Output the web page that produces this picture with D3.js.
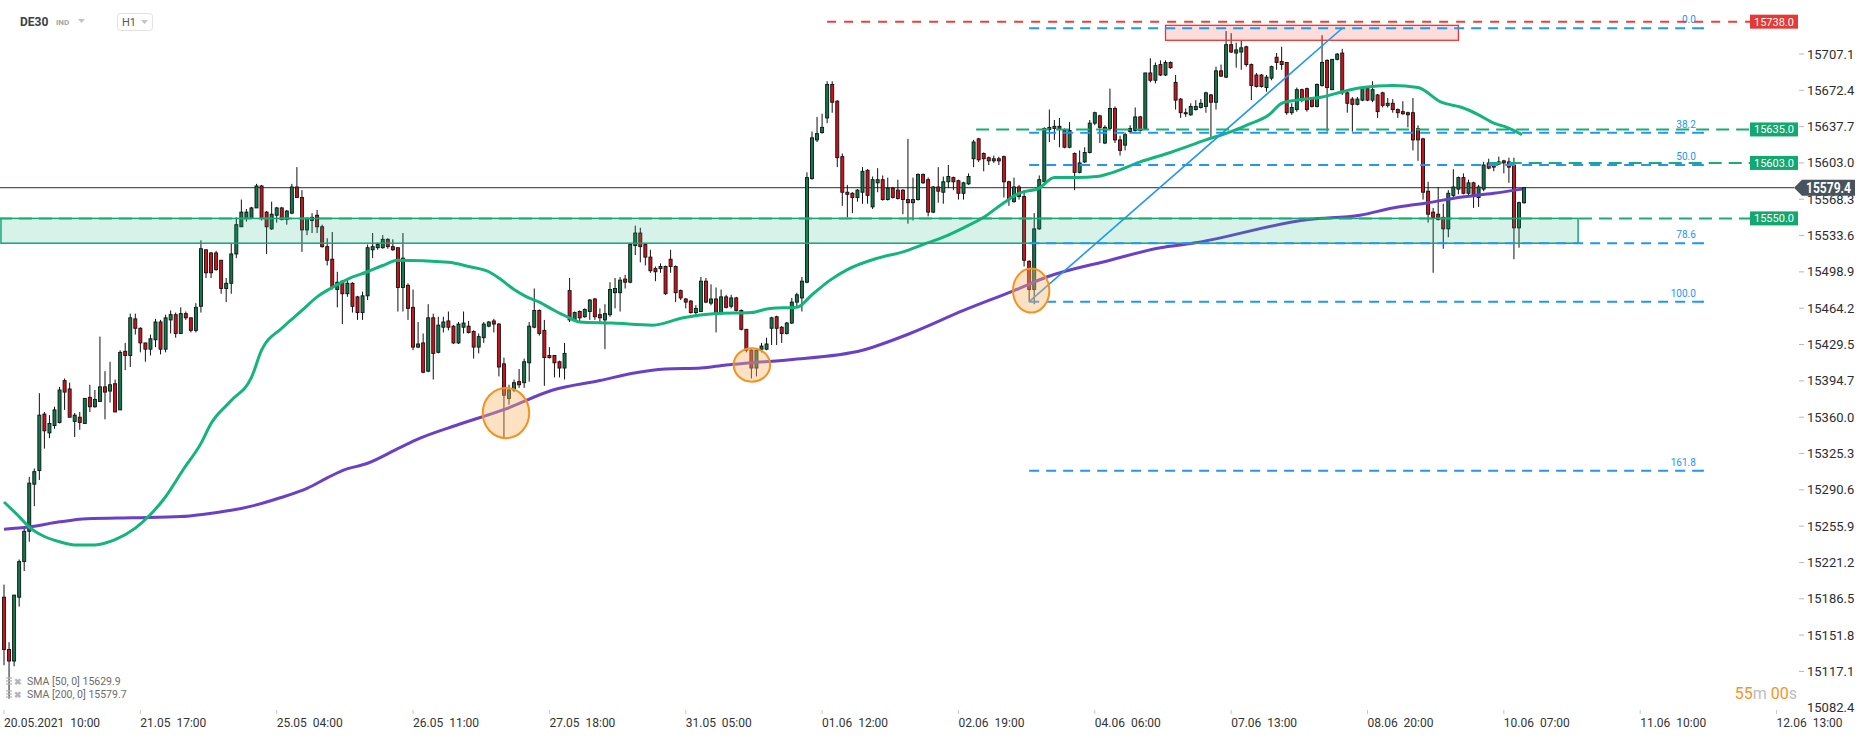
<!DOCTYPE html>
<html>
<head>
<meta charset="utf-8">
<script src="https://cdn.jsdelivr.net/npm/d3@7"></script>
<style>
  body { margin: 0; background: #fff; }
  svg { display: block; font-family: Roboto, "Noto Sans", Arial, sans-serif; }
</style>
</head>
<body>
<div class="chart"></div>
<script>
// DE30 H1 candles, 20.05.2021 10:00 -> 10.06.2021, one value per bar
var open = [
  15188,15138,15127,15188,15222,15251,15296,15309,15363,15345,
  15352,15355,15395,15387,15356,15360,15354,15379,15370,15375,
  15389,15385,15392,15367,15423,15419,15454,15445,15431,15425,
  15434,15451,15425,15453,15458,15440,15459,15455,15443,15466,
  15520,15517,15517,15510,15483,15488,15516,15542,15550,15550,
  15560,15581,15556,15540,15553,15560,15549,15555,15580,15570,
  15539,15548,15553,15542,15523,15511,15482,15490,15478,15488,
  15475,15460,15476,15520,15522,15522,15530,15523,15522,15484,
  15486,15465,15427,15431,15404,15455,15422,15446,15452,15447,
  15431,15446,15447,15442,15427,15436,15447,15452,15449,15411,
  15378,15386,15394,15393,15412,15446,15462,15443,15419,15419,
  15413,15407,15481,15453,15461,15456,15461,15473,15458,15453,
  15458,15479,15479,15492,15489,15524,15536,15525,15513,15502,
  15502,15504,15511,15504,15481,15473,15471,15460,15461,15490,
  15469,15473,15460,15475,15466,15474,15462,15444,15424,15407,
  15425,15425,15445,15456,15446,15440,15450,15470,15474,15489,
  15588,15625,15632,15646,15678,15662,15609,15575,15574,15570,
  15575,15596,15561,15584,15587,15568,15579,15577,15577,15568,
  15565,15568,15592,15587,15556,15580,15575,15585,15589,15586,
  15574,15583,15607,15626,15612,15608,15605,15607,15609,15585,
  15566,15580,15571,15509,15482,15540,15585,15635,15636,15638,
  15634,15618,15612,15594,15604,15613,15641,15648,15622,15636,
  15655,15625,15620,15633,15634,15647,15636,15689,15682,15697,
  15687,15699,15680,15664,15651,15649,15654,15656,15657,15668,
  15661,15691,15685,15716,15708,15709,15714,15697,15687,15687,
  15675,15684,15704,15700,15699,15651,15654,15673,15674,15664,
  15657,15677,15701,15673,15702,15708,15670,15664,15659,15663,
  15674,15663,15668,15670,15658,15660,15654,15652,15651,15651,
  15636,15626,15576,15556,15554,15551,15540,15572,15578,15589,
  15574,15584,15570,15578,15603,15601,15602,15605,15604,15601,
  15541,15565
];
var high = [
  15200,15145,15190,15224,15254,15303,15311,15383,15365,15362,
  15370,15389,15397,15393,15364,15365,15378,15391,15386,15437,
  15404,15413,15396,15424,15431,15459,15459,15446,15431,15439,
  15454,15453,15458,15462,15460,15465,15461,15455,15469,15529,
  15520,15518,15519,15510,15493,15526,15551,15568,15559,15561,
  15583,15582,15557,15566,15561,15561,15558,15583,15599,15577,
  15551,15555,15558,15544,15531,15537,15499,15491,15493,15489,
  15476,15480,15525,15536,15527,15534,15531,15530,15522,15536,
  15488,15482,15451,15440,15468,15459,15456,15456,15461,15448,
  15451,15461,15452,15443,15440,15451,15452,15454,15450,15417,
  15391,15396,15406,15416,15451,15483,15463,15453,15427,15419,
  15414,15431,15493,15461,15462,15464,15473,15474,15464,15468,
  15489,15493,15494,15496,15526,15543,15541,15526,15520,15504,
  15507,15505,15520,15505,15482,15474,15472,15467,15494,15493,
  15487,15484,15482,15477,15477,15475,15463,15444,15425,15424,
  15431,15436,15456,15457,15447,15451,15474,15479,15494,15594,
  15633,15647,15650,15681,15681,15663,15612,15582,15575,15578,
  15599,15597,15590,15598,15591,15589,15580,15587,15578,15626,
  15589,15593,15593,15589,15581,15599,15590,15601,15590,15587,
  15585,15593,15625,15627,15613,15609,15610,15609,15610,15586,
  15589,15582,15577,15510,15555,15591,15637,15654,15644,15646,
  15636,15642,15613,15615,15618,15644,15652,15649,15639,15674,
  15657,15629,15632,15639,15656,15648,15689,15703,15699,15701,
  15701,15700,15687,15665,15655,15660,15663,15664,15671,15669,
  15695,15697,15729,15727,15718,15720,15715,15698,15689,15688,
  15687,15696,15708,15714,15699,15660,15675,15674,15675,15666,
  15679,15725,15702,15702,15708,15712,15671,15666,15666,15675,
  15675,15681,15669,15671,15665,15664,15655,15662,15652,15665,
  15639,15627,15585,15560,15580,15564,15577,15597,15590,15593,
  15587,15585,15582,15604,15607,15603,15609,15606,15608,15608,
  15566,15580
];
var low = [
  15123,15091,15122,15179,15213,15241,15275,15300,15330,15340,
  15349,15354,15367,15360,15341,15348,15354,15365,15369,15375,
  15358,15374,15365,15367,15405,15408,15439,15422,15413,15419,
  15427,15420,15422,15440,15436,15440,15453,15441,15441,15460,
  15493,15493,15500,15478,15470,15478,15512,15542,15547,15550,
  15560,15548,15516,15539,15546,15548,15544,15554,15570,15518,
  15534,15536,15536,15522,15505,15482,15465,15449,15475,15460,
  15453,15453,15472,15512,15520,15521,15521,15519,15461,15461,
  15453,15424,15426,15402,15403,15396,15421,15441,15443,15430,
  15430,15440,15440,15416,15421,15431,15446,15441,15399,15341,
  15372,15384,15388,15388,15394,15445,15438,15390,15416,15398,
  15398,15396,15451,15452,15450,15455,15453,15453,15450,15425,
  15456,15464,15461,15483,15488,15515,15508,15505,15498,15490,
  15498,15477,15498,15470,15472,15464,15459,15456,15461,15469,
  15467,15441,15458,15464,15464,15461,15443,15422,15397,15399,
  15422,15424,15429,15429,15431,15439,15449,15465,15461,15488,
  15587,15623,15631,15641,15651,15599,15562,15551,15555,15566,
  15564,15564,15559,15575,15567,15567,15569,15568,15554,15545,
  15548,15567,15583,15552,15555,15565,15564,15579,15577,15568,
  15568,15582,15599,15604,15595,15601,15603,15601,15570,15562,
  15565,15568,15504,15470,15468,15539,15585,15623,15625,15618,
  15617,15617,15577,15593,15603,15612,15639,15622,15621,15634,
  15622,15610,15615,15631,15633,15633,15635,15680,15679,15686,
  15686,15693,15654,15646,15647,15648,15653,15655,15651,15628,
  15654,15685,15684,15708,15694,15692,15695,15663,15675,15675,
  15671,15682,15692,15692,15649,15649,15652,15661,15652,15656,
  15656,15676,15633,15673,15701,15668,15651,15633,15658,15662,
  15662,15661,15646,15656,15656,15651,15646,15649,15637,15615,
  15605,15568,15546,15498,15548,15521,15532,15570,15573,15573,
  15572,15560,15561,15576,15597,15595,15601,15593,15584,15511,
  15522,15564
];
var close = [
  15138,15127,15190,15222,15251,15297,15308,15362,15347,15354,
  15367,15386,15384,15360,15362,15355,15378,15370,15377,15389,
  15384,15391,15365,15422,15419,15455,15445,15431,15425,15435,
  15451,15425,15455,15458,15440,15459,15455,15443,15465,15521,
  15498,15498,15501,15483,15488,15516,15544,15556,15556,15560,
  15581,15550,15542,15554,15560,15549,15557,15580,15570,15539,
  15550,15551,15542,15523,15510,15485,15489,15478,15488,15466,
  15460,15476,15522,15523,15525,15530,15523,15520,15484,15512,
  15464,15427,15430,15403,15455,15421,15448,15451,15446,15431,
  15449,15450,15441,15427,15437,15449,15451,15449,15408,15381,
  15386,15393,15391,15413,15447,15462,15440,15417,15417,15412,
  15407,15421,15453,15460,15455,15463,15472,15456,15455,15459,
  15482,15483,15491,15489,15525,15536,15523,15513,15500,15499,
  15504,15478,15504,15479,15474,15470,15460,15464,15490,15470,
  15473,15460,15475,15465,15474,15462,15444,15424,15407,15424,
  15428,15430,15455,15445,15440,15450,15470,15477,15490,15589,
  15627,15631,15637,15678,15661,15608,15575,15573,15570,15577,
  15595,15572,15587,15587,15568,15579,15570,15569,15568,15565,
  15568,15592,15584,15556,15580,15576,15585,15590,15585,15574,
  15584,15590,15623,15606,15607,15605,15607,15605,15585,15568,
  15580,15571,15510,15482,15540,15587,15636,15637,15638,15636,
  15618,15634,15594,15603,15613,15641,15651,15637,15637,15655,
  15625,15615,15630,15636,15647,15634,15689,15682,15696,15687,
  15699,15694,15663,15651,15650,15657,15657,15660,15670,15661,
  15691,15686,15716,15709,15711,15713,15697,15677,15676,15676,
  15685,15695,15699,15697,15651,15656,15673,15663,15654,15657,
  15678,15699,15675,15702,15707,15670,15660,15659,15664,15674,
  15663,15673,15652,15658,15660,15654,15651,15650,15649,15625,
  15625,15575,15554,15551,15549,15540,15574,15580,15589,15574,
  15584,15571,15580,15601,15598,15599,15604,15603,15599,15541,
  15565,15579.4
];

// moving averages (bar index, value)
var sma50Bars = [0,3,5,8,11,14,18,22,26,29,32,35.5,39,41,45,49,51,55,59,62,65,68.5,72,75,78,88,92,96,98,101,103.5,106,109,111.5,114,120.5,128.5,134.5,141,148,151.7,157,160,163.6,167,173,178,182,186,190,194,198,201,205,208,212.5,216.4,219,225,231,238,243,246,250.5,253,256,261,265,269,275,280,284.6,288.7,292,295,297.6,300.6];
var sma50Vals = [15279,15265,15255,15246,15241,15238,15238,15243,15254,15267,15284,15310,15335,15354,15376,15398,15424,15445,15462,15475,15484,15493,15499,15505,15510,15508,15504,15499,15493,15482,15475,15470,15462,15456,15451,15450,15448,15455,15459,15460,15464,15465,15477,15491,15501,15512,15518,15525,15532,15541,15551,15565,15574,15579,15589,15589,15590,15593,15604,15613,15625,15633,15639,15649,15660,15663,15666,15671,15675,15677,15675,15661,15656,15649,15641,15637,15630];
var sma200Bars = [0,5,11,16.4,25.5,35,40,45,49,54.7,60,64,67,72,78.4,82.4,90,99.4,108.7,118,124.5,131,138,143,148,155.6,170,179.4,190,200,206.5,219,229,235,258.4,268.5,275,282,288,295,300.6];
var sma200Vals = [15253,15255,15260,15263,15264,15265,15267.5,15271,15275,15283,15292,15302,15309,15316,15331,15340,15353,15368,15386,15395,15402,15406,15407,15410,15412,15415,15424,15440,15462,15481,15494,15510,15522,15526,15549,15553,15560,15565,15570,15574,15578];

var timeBars = [0,27,54,81,108,135,162,189,216,243,270,297,324,351];
var timeLabels = ["20.05.2021  10:00","21.05  17:00","25.05  04:00","26.05  11:00","27.05  18:00","31.05  05:00","01.06  12:00","02.06  19:00","04.06  06:00","07.06  13:00","08.06  20:00","10.06  07:00","11.06  10:00","12.06  13:00"];
var priceTicks = [15707.1,15672.4,15637.7,15603.0,15568.3,15533.6,15498.9,15464.2,15429.5,15394.7,15360.0,15325.3,15290.6,15255.9,15221.2,15186.5,15151.8,15117.1];
var lastPrice = 15579.4;

// horizontal levels drawn by hand
var levelPrices = [15738.0, 15635.0, 15603.0, 15550.0];
var levelStartBars = [163, 192.5, 294, -1];
var levelKinds = ["red", "green", "green", "green"];

// fibonacci retracement
var fibLowBar = 203, fibLow = 15470.4;
var fibHighBar = 265, fibHigh = 15731.7;
var fibEndBar = 336.4;
var fibRatios = [0, 38.2, 50.0, 78.6, 100.0, 161.8];

// support zone and resistance box
var zoneTop = 15550.0, zoneBottom = 15526.3, zoneBars = [-0.6, 311.7];
var boxTop = 15734.5, boxBottom = 15720.2, boxBars = [230, 288];

// circled touches of the SMA200 (centre bar, price, half width in bars, half height in points)
var circleBars = [99.4, 148.1, 203.4];
var circlePrices = [15364, 15410, 15481];
var circleHalfBars = [4.6, 3.6, 3.6];
var circleHalfPts = [24, 16, 21];

var svgWidth = 1866;
var svgHeight = 738;
var tagX = 1750;

var xScale = d3.scaleLinear().domain([0, 351]).range([4, 4 + 351 * 5.05]);
var yScale = d3.scaleLinear().domain([15082.4, 15707.1]).range([707.7, 54]);

var svg = d3.select(".chart")
  .append("svg")
  .attr("width", svgWidth)
  .attr("height", svgHeight);

var greenLvl = "#19ad74", blueFib = "#2196f3", redLvl = "#e5413f";

// last price line
svg.append("line")
  .attr("x1", 0).attr("x2", 1794)
  .attr("y1", yScale(lastPrice)).attr("y2", yScale(lastPrice))
  .attr("stroke", "#4c5862").attr("stroke-width", 1.2);

// candles
var bars = svg.append("g").selectAll("g")
  .data(close)
  .enter().append("g");

bars.append("line")
  .attr("x1", function(d, i) { return xScale(i); })
  .attr("x2", function(d, i) { return xScale(i); })
  .attr("y1", function(d, i) { return yScale(high[i]); })
  .attr("y2", function(d, i) { return yScale(low[i]); })
  .attr("stroke", "#111").attr("stroke-width", 1);

bars.append("rect")
  .attr("x", function(d, i) { return xScale(i) - 1.5; })
  .attr("width", 3)
  .attr("y", function(d, i) { return yScale(Math.max(open[i], d)); })
  .attr("height", function(d, i) { return Math.max(1, Math.abs(yScale(open[i]) - yScale(d))); })
  .attr("fill", function(d, i) { return d >= open[i] ? "#0b7a4c" : "#d0101b"; })
  .attr("stroke", "#111").attr("stroke-width", 0.9);

// moving averages
var maLine = d3.line()
  .x(function(d) { return xScale(d[0]); })
  .y(function(d) { return yScale(d[1]); })
  .curve(d3.curveMonotoneX);

svg.append("path")
  .attr("d", maLine(d3.zip(sma200Bars, sma200Vals)))
  .attr("fill", "none").attr("stroke", "#6a41c6").attr("stroke-width", 3);
svg.append("path")
  .attr("d", maLine(d3.zip(sma50Bars, sma50Vals)))
  .attr("fill", "none").attr("stroke", "#14b47d").attr("stroke-width", 3);

// zone
svg.append("rect")
  .attr("x", xScale(zoneBars[0]))
  .attr("width", xScale(zoneBars[1]) - xScale(zoneBars[0]))
  .attr("y", yScale(zoneTop))
  .attr("height", yScale(zoneBottom) - yScale(zoneTop))
  .attr("fill", "#1db584").attr("fill-opacity", 0.18)
  .attr("stroke", "#17a577").attr("stroke-width", 1.5);

// resistance box
svg.append("rect")
  .attr("x", xScale(boxBars[0]))
  .attr("width", xScale(boxBars[1]) - xScale(boxBars[0]))
  .attr("y", yScale(boxTop))
  .attr("height", yScale(boxBottom) - yScale(boxTop))
  .attr("fill", "#ef5350").attr("fill-opacity", 0.2)
  .attr("stroke", "#e53935").attr("stroke-width", 1.3);

// fibonacci lines
var fibG = svg.append("g");
fibRatios.forEach(function(r) {
  var p = fibHigh - r / 100 * (fibHigh - fibLow);
  var yy = yScale(p);
  fibG.append("line")
    .attr("x1", xScale(fibLowBar)).attr("x2", xScale(fibEndBar))
    .attr("y1", yy).attr("y2", yy)
    .attr("stroke", blueFib).attr("stroke-width", 2)
    .attr("stroke-dasharray", "10,7");
  fibG.append("circle")
    .attr("cx", xScale(fibEndBar)).attr("cy", yy).attr("r", 1.2)
    .attr("fill", blueFib);
  fibG.append("text")
    .attr("x", xScale(fibEndBar) - 7).attr("y", yy - 5)
    .attr("text-anchor", "end")
    .attr("font-size", 10).attr("fill", blueFib)
    .text(r.toFixed(1));
});

// trend line of the fib tool
svg.append("line")
  .attr("x1", xScale(fibLowBar)).attr("y1", yScale(fibLow))
  .attr("x2", xScale(fibHighBar)).attr("y2", yScale(fibHigh))
  .attr("stroke", blueFib).attr("stroke-width", 1.6);

// horizontal levels + tags
levelPrices.forEach(function(p, i) {
  var col = levelKinds[i] == "red" ? redLvl : greenLvl;
  var yy = yScale(p);
  svg.append("line")
    .attr("x1", xScale(levelStartBars[i])).attr("x2", tagX)
    .attr("y1", yy).attr("y2", yy)
    .attr("stroke", col).attr("stroke-width", 2)
    .attr("stroke-dasharray", levelKinds[i] == "red" ? "9,8" : "13,7");
  svg.append("rect")
    .attr("x", tagX).attr("y", yy - 7)
    .attr("width", 48).attr("height", 14)
    .attr("fill", levelKinds[i] == "red" ? "#e53935" : "#12a86f");
  svg.append("text")
    .attr("x", tagX + 24).attr("y", yy + 4)
    .attr("text-anchor", "middle")
    .attr("font-size", 11).attr("fill", "#fff")
    .text(p.toFixed(1));
});

// circles
circleBars.forEach(function(b, i) {
  var cx = xScale(b), cy = yScale(circlePrices[i]);
  svg.append("ellipse")
    .attr("cx", cx).attr("cy", cy)
    .attr("rx", xScale(b + circleHalfBars[i]) - cx)
    .attr("ry", cy - yScale(circlePrices[i] + circleHalfPts[i]))
    .attr("fill", "#fbb36a").attr("fill-opacity", 0.4)
    .attr("stroke", "#f39220").attr("stroke-width", 2);
});

// price axis
var axisG = svg.append("g");
priceTicks.forEach(function(p) {
  var yy = yScale(p);
  axisG.append("line")
    .attr("x1", 1799).attr("x2", 1804).attr("y1", yy).attr("y2", yy)
    .attr("stroke", "#b8b8b8");
  axisG.append("text")
    .attr("x", 1807).attr("y", yy + 4.5)
    .attr("font-size", 13).attr("fill", "#2e2e2e")
    .text(p.toFixed(1));
});
axisG.append("text")
  .attr("x", 1807).attr("y", yScale(15082.4) + 4.5)
  .attr("font-size", 13).attr("fill", "#2e2e2e")
  .text("15082.4");

// last price tag (sits over the 15568.3 tick like in the platform)
var ly = yScale(lastPrice);
svg.append("path")
  .attr("d", "M1794," + ly + " L1802," + (ly - 8) + " L1855," + (ly - 8) + " L1855," + (ly + 8) + " L1802," + (ly + 8) + " Z")
  .attr("fill", "#47535d");
svg.append("text")
  .attr("x", 1806).attr("y", ly + 5)
  .attr("font-size", 14).attr("font-weight", "bold").attr("fill", "#fff")
  .attr("textLength", 45).attr("lengthAdjust", "spacingAndGlyphs")
  .text(lastPrice.toFixed(1));

// time axis
var timeG = svg.append("g");
timeBars.forEach(function(b, i) {
  timeG.append("line")
    .attr("x1", xScale(b)).attr("x2", xScale(b))
    .attr("y1", 710).attr("y2", 714)
    .attr("stroke", "#c8c8c8");
  timeG.append("text")
    .attr("x", xScale(b)).attr("y", 727)
    .attr("font-size", 12).attr("fill", "#333")
    .style("white-space", "pre")
    .text(timeLabels[i]);
});

// countdown
var timer = svg.append("text")
  .attr("x", 1797).attr("y", 699)
  .attr("text-anchor", "end")
  .attr("font-size", 16);
timer.append("tspan").attr("fill", "#f7931e").text("55");
timer.append("tspan").attr("fill", "#bdbdbd").text("m ");
timer.append("tspan").attr("fill", "#f7931e").text("00");
timer.append("tspan").attr("fill", "#bdbdbd").text("s");

// header
svg.append("text").attr("x", 20).attr("y", 26)
  .attr("font-size", 12).attr("font-weight", "bold").attr("fill", "#37424a")
  .text("DE30");
svg.append("text").attr("x", 56).attr("y", 25)
  .attr("font-size", 8).attr("font-weight", "bold").attr("fill", "#9aa6ad")
  .text("IND");
svg.append("path").attr("d", "M78,19 L85,19 L81.5,23 Z").attr("fill", "#c4c4c4");
svg.append("rect").attr("x", 117.5).attr("y", 13.5).attr("width", 35).attr("height", 17)
  .attr("rx", 3).attr("fill", "#fff").attr("stroke", "#e2e2e2");
svg.append("text").attr("x", 122).attr("y", 26)
  .attr("font-size", 11).attr("fill", "#555")
  .text("H1");
svg.append("path").attr("d", "M141,20 L148,20 L144.5,24 Z").attr("fill", "#c4c4c4");

// indicator legend
var legendRows = ["SMA [50, 0] 15629.9", "SMA [200, 0] 15579.7"];
legendRows.forEach(function(t, i) {
  var yy = 681 + i * 13;
  [-3, 0, 3].forEach(function(o) {
    svg.append("line").attr("x1", 6).attr("x2", 12).attr("y1", yy + o).attr("y2", yy + o)
      .attr("stroke", "#b5b5b5").attr("stroke-width", 1.3);
  });
  svg.append("text").attr("x", 14).attr("y", yy + 3.5)
    .attr("font-size", 9).attr("font-weight", "bold").attr("fill", "#b5b5b5").text("\u2716");
  svg.append("text").attr("x", 27).attr("y", yy + 3.5)
    .attr("font-size", 10.5).attr("fill", "#6b6b6b").text(t);
});
</script>
</body>
</html>
